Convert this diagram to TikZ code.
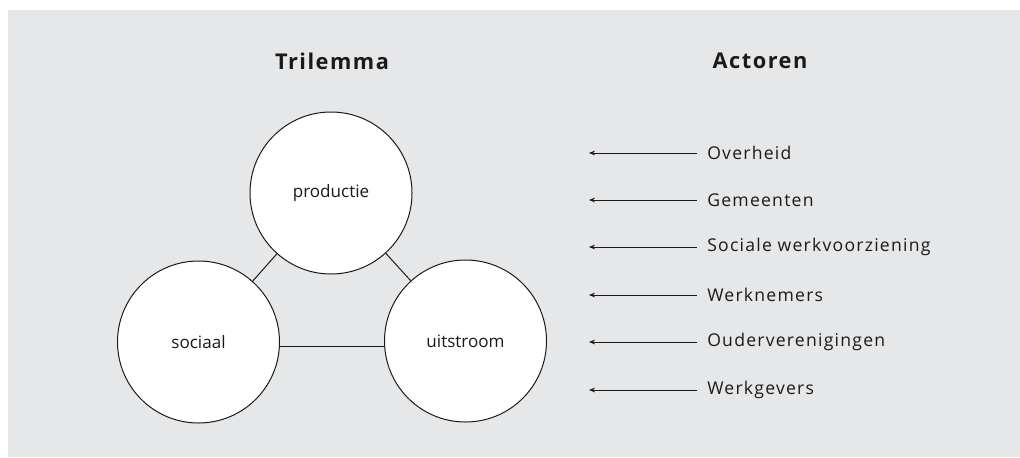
\documentclass[tikz,border=0pt]{standalone}
\usepackage{fontspec}
\setmainfont{Open Sans}
\newfontfamily\actorfont[LetterSpace=7]{Open Sans}
\newfontfamily\titlefont[LetterSpace=7]{Open Sans}
\usetikzlibrary{arrows.meta}
\definecolor{bggray}{HTML}{E6E7E9}
\definecolor{ink}{HTML}{1A1A1A}
\tikzset{
  circ/.style={circle, draw=ink, fill=white, line width=0.75pt, minimum size=121.5pt, inner sep=0pt, font=\fontsize{12.8}{15}\selectfont, text=ink},
  link/.style={draw=ink, line width=0.75pt},
  title/.style={font=\titlefont\bfseries\fontsize{16.3}{19}\selectfont, text=ink},
  actor/.style={anchor=west, inner sep=0pt, font=\actorfont\fontsize{13.2}{15}\selectfont, text=ink},
  arr/.style={draw=ink, line width=0.6pt, -{Stealth[length=4.5pt,width=3.5pt]}}
}
\begin{document}
\begin{tikzpicture}[x=0.75pt,y=-0.75pt]
\useasboundingbox (0,0) rectangle (1020,457);
\fill[bggray] (8,10) rectangle (1020,457);
\node[title] (t1) at (332,61) {Trilemma};
\node[title] (t2) at (760,61) {Actoren};
\node[circ] (prod) at (331,193) {productie};
\node[circ] (soc) at (198.5,342) {sociaal};
\node[circ] (uit) at (465.5,341) {uitstroom};
\draw[link] (prod) -- (soc);
\draw[link] (prod) -- (uit);
\draw[link] (soc.east |- 0,346) coordinate (se) -- (uit.west |- 0,346) coordinate (uw);
\foreach \i/\t/\y in {1/Overheid/153, 2/Gemeenten/200, 3/Sociale werkvoorziening/247, 4/Werknemers/295, 5/Ouderverenigingen/342, 6/Werkgevers/390}{
  \node[actor] (a\i) at (707,\y) {\t};
  \coordinate (s\i) at (697,\y);
  \coordinate (e\i) at (589,\y);
  \draw[arr] (s\i) -- (e\i);
}
\end{tikzpicture}
\end{document}
